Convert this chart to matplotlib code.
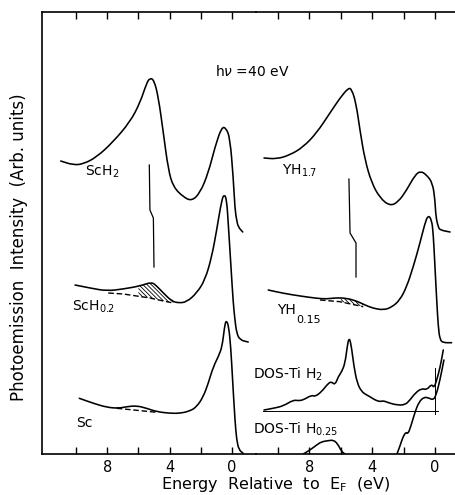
import numpy as np
import matplotlib
matplotlib.use('Agg')
import matplotlib.pyplot as plt
from matplotlib.path import Path
from matplotlib.patches import PathPatch
from matplotlib.ticker import FixedLocator, NullFormatter

# ---- data (energy below E_F in eV, intensity in arb. units) ----
# left panel
sch2_e = [10.98, 10.17, 9.53, 8.67, 7.63, 6.54, 5.90, 5.47, 5.26, 5.00, 4.72, 4.40, 4.08,
          3.76, 3.12, 2.58, 2.05, 1.52, 1.09, 0.66, 0.38, 0.13, -0.08, -0.19, -0.30, -0.40, -0.69]
sch2_i = [29.3, 28.9, 29.0, 29.7, 31.2, 33.2, 35.1, 37.1, 37.6, 37.4, 35.7, 32.1, 28.4,
          26.7, 25.7, 25.3, 26.1, 28.1, 30.7, 32.7, 32.6, 31.6, 27.7, 24.5, 23.4, 22.7, 22.2]
sch2_mark_e = [5.30, 5.26, 5.04, 5.00]
sch2_mark_i = [28.9, 24.4, 23.6, 18.7]

sch02_e = [10.06, 9.10, 8.03, 6.97, 5.90, 5.15, 4.83, 4.40, 3.87, 3.44, 2.90, 2.26, 1.73,
           1.30, 0.98, 0.66, 0.49, 0.34, 0.24, 0.08, -0.08, -0.19, -0.30, -0.51, -1.04]
sch02_i = [16.9, 16.6, 16.3, 16.5, 16.8, 17.2, 16.8, 16.1, 15.3, 15.1, 15.2, 16.1, 17.4,
           19.7, 22.4, 25.4, 26.0, 25.4, 23.1, 19.1, 15.1, 13.4, 12.1, 11.4, 11.2]
sch02_bg_e = [7.93, 6.97, 6.11, 5.26, 4.40, 3.76]
sch02_bg_i = [16.1, 16.0, 15.8, 15.6, 15.3, 15.1]

sc_e = [9.79, 8.89, 8.03, 7.29, 6.75, 6.11, 5.47, 4.83, 3.97, 3.33, 2.69, 2.26, 1.84, 1.52,
        1.20, 0.77, 0.60, 0.45, 0.34, 0.21, 0.08, -0.04, -0.19, -0.30, -0.45, -0.72]
sc_i = [5.57, 5.07, 4.67, 4.57, 4.73, 4.83, 4.57, 4.23, 4.07, 4.07, 4.30, 4.73, 5.73, 7.07,
        8.73, 10.07, 11.07, 13.07, 13.33, 12.73, 10.73, 7.4, 3.4, 1.4, 0.4, 0.07]
sc_bg_e = [7.39, 4.83]
sc_bg_i = [4.57, 4.17]

# right panel
yh17_e = [10.89, 10.08, 9.24, 8.39, 7.54, 6.69, 6.05, 5.52, 5.31, 5.03, 4.78, 4.46, 4.03,
          3.50, 2.87, 2.34, 1.80, 1.27, 0.91, 0.53, 0.15, 0.0, -0.06, -0.21, -0.32, -0.96]
yh17_i = [29.6, 29.5, 29.9, 30.7, 32.1, 34.1, 35.6, 36.6, 36.5, 35.1, 32.4, 29.4, 27.1,
          25.6, 24.8, 25.2, 26.4, 27.9, 28.3, 27.9, 27.1, 25.4, 23.7, 22.7, 22.4, 22.2]
yh17_mark_e = [5.48, 5.41, 5.03, 5.03]
yh17_mark_i = [27.5, 22.1, 21.1, 17.7]

yh015_e = [10.62, 9.66, 8.60, 7.54, 6.90, 6.26, 5.62, 4.99, 4.46, 3.93, 3.29, 2.76, 2.23,
           1.80, 1.38, 0.96, 0.64, 0.43, 0.21, 0.11, 0.0, -0.11, -0.21, -0.32, -0.53, -1.06]
yh015_i = [16.4, 16.07, 15.8, 15.57, 15.5, 15.63, 15.57, 15.3, 14.9, 14.57, 14.4, 14.67, 15.4,
           16.73, 18.73, 21.07, 23.07, 23.9, 23.4, 22.07, 18.73, 15.4, 12.73, 11.4, 11.13, 11.13]
yh015_bg_e = [7.32, 6.05, 4.57]
yh015_bg_i = [15.4, 15.23, 14.73]

tih2_e = [10.89, 10.30, 9.66, 9.03, 8.71, 8.39, 7.85, 7.64, 7.22, 6.80, 6.59, 6.37, 6.16,
          5.94, 5.73, 5.59, 5.48, 5.35, 5.16, 4.95, 4.67, 4.35, 4.14, 3.82, 3.50, 3.29, 2.97,
          2.44, 1.91, 1.59, 1.27, 0.85, 0.53, 0.21, 0.06, -0.11, -0.32, -0.53]
tih2_i = [4.4, 4.57, 4.8, 5.4, 5.33, 5.4, 5.9, 5.73, 6.23, 7.07, 7.23, 6.9, 7.73,
          8.23, 9.07, 10.73, 11.63, 11.07, 8.73, 7.07, 6.23, 5.9, 5.73, 5.4, 5.23, 5.33, 5.13,
          4.9, 4.9, 5.4, 6.07, 6.57, 6.4, 7.0, 6.6, 7.4, 8.6, 10.4]
tih2_base = 4.3
tih2_base_e = [10.96, -0.19]
ef_mark_i = [4.0, 8.6]

tih025_left_e = [8.39, 7.96, 7.54, 7.22, 6.80, 6.48, 6.22, 5.94, 5.73]
tih025_left_i = [0.0, 0.4, 0.9, 1.23, 1.33, 1.4, 1.07, 0.23, 0.0]
tih025_right_e = [2.42, 2.23, 2.04, 1.85, 1.72, 1.53, 1.27, 1.02, 0.70, 0.38, 0.13, -0.06, -0.32, -0.57]
tih025_right_i = [0.0, 0.8, 1.7, 2.2, 2.0, 2.8, 4.2, 5.2, 5.7, 5.6, 5.4, 5.8, 7.4, 9.4]

major_e = [8, 4, 0]
minor_e = [10, 6, 2]

plt.rcParams['font.family'] = ['DejaVu Sans']
plt.rcParams['hatch.linewidth'] = 0.6


def smooth_line(ax, xs, ys, lw=1.15):
    # quadratic bezier through the midpoints, control points are the read values
    pts = np.column_stack([xs, ys])
    verts = [pts[0], (pts[0] + pts[1]) / 2]
    codes = [Path.MOVETO, Path.LINETO]
    for k in range(1, len(pts) - 1):
        verts += [pts[k], (pts[k] + pts[k + 1]) / 2]
        codes += [Path.CURVE3, Path.CURVE3]
    verts.append(pts[-1])
    codes.append(Path.LINETO)
    ax.add_patch(PathPatch(Path(verts, codes), facecolor='none', edgecolor='black', lw=lw,
                           capstyle='round', joinstyle='round'))


fig = plt.figure(figsize=(4.56, 4.95), dpi=100)
W, H = 456, 495
bottom_px, top_px = 454, 12
ax1 = fig.add_axes([42 / W, (H - bottom_px) / H, 214 / W, (bottom_px - top_px) / H])
ax2 = fig.add_axes([256 / W, (H - bottom_px) / H, 200 / W, (bottom_px - top_px) / H])

ax1.set_xlim(12.18, -1.54)
ax2.set_xlim(11.40, -1.34)

dash = dict(color='black', lw=1.0, ls=(0, (4, 2)))
hatch = '\\\\\\\\\\\\\\\\'

smooth_line(ax1, sch2_e, sch2_i)
ax1.plot(sch2_mark_e, sch2_mark_i, color='black', lw=0.9)
smooth_line(ax1, sch02_e, sch02_i)
ax1.plot(sch02_bg_e, sch02_bg_i, **dash)
smooth_line(ax1, sc_e, sc_i)
ax1.plot(sc_bg_e, sc_bg_i, **dash)

# hatched difference ScH0.2
hx = np.linspace(6.0, 3.76, 40)
top = np.interp(hx, sch02_e[::-1], sch02_i[::-1])
bot = np.interp(hx, sch02_bg_e[::-1], sch02_bg_i[::-1])
ax1.fill_between(hx, bot, top, facecolor='none', edgecolor='black', lw=0, hatch=hatch)

smooth_line(ax2, yh17_e, yh17_i)
ax2.plot(yh17_mark_e, yh17_mark_i, color='black', lw=0.9)
smooth_line(ax2, yh015_e, yh015_i)
ax2.plot(yh015_bg_e, yh015_bg_i, **dash)
hx = np.linspace(6.0, 4.57, 30)
top = np.interp(hx, yh015_e[::-1], yh015_i[::-1])
bot = np.interp(hx, yh015_bg_e[::-1], yh015_bg_i[::-1])
ax2.fill_between(hx, bot, np.maximum(top, bot), facecolor='none', edgecolor='black', lw=0,
                 hatch=hatch)

smooth_line(ax2, tih2_e, tih2_i)
ax2.plot(tih2_base_e, [tih2_base, tih2_base], color='black', lw=0.7)
ax2.plot([0, 0], ef_mark_i, color='black', lw=0.7)
smooth_line(ax2, tih025_left_e, tih025_left_i)
smooth_line(ax2, tih025_right_e, tih025_right_i)

for ax in (ax1, ax2):
    ax.set_ylim(0, 44.2)
    ax.yaxis.set_visible(False)
    ax.xaxis.set_major_locator(FixedLocator(major_e))
    ax.xaxis.set_minor_locator(FixedLocator(minor_e))
    ax.xaxis.set_minor_formatter(NullFormatter())
    ax.set_xticklabels(['8', '4', '0'])
    ax.tick_params(axis='x', which='both', direction='in', top=True, bottom=True,
                   length=5, width=1.0, labelsize=10.5, pad=4)
    ax.patch.set_visible(False)
    for s in ax.spines.values():
        s.set_linewidth(1.2)
ax1.spines['right'].set_visible(False)
ax2.spines['right'].set_visible(False)
ax2.spines['left'].set_visible(False)


def lab(x, y, s, size=10):
    fig.text(x / W, 1 - y / H, s, fontsize=size, va='center', ha='left')


lab(215, 72, r'h$\nu$ =40 eV')
lab(85, 172, r'ScH$_2$')
lab(282, 171, r'YH$_{1.7}$')
lab(72, 307, r'ScH$_{0.2}$')
lab(277, 310, 'YH')
lab(296, 320, '0.15', size=8)
lab(76, 423, 'Sc')
lab(253, 374, r'DOS-Ti H$_2$')
lab(253, 429, r'DOS-Ti H$_{0.25}$')

fig.text(276 / W, 1 - 484 / H, r'Energy  Relative  to  E$_\mathrm{F}$  (eV)', fontsize=11.5,
         ha='center', va='center')
fig.text(19 / W, 1 - 247 / H, 'Photoemission  Intensity  (Arb. units)', fontsize=12,
         ha='center', va='center', rotation=90)

fig.savefig('out.png', dpi=100)
